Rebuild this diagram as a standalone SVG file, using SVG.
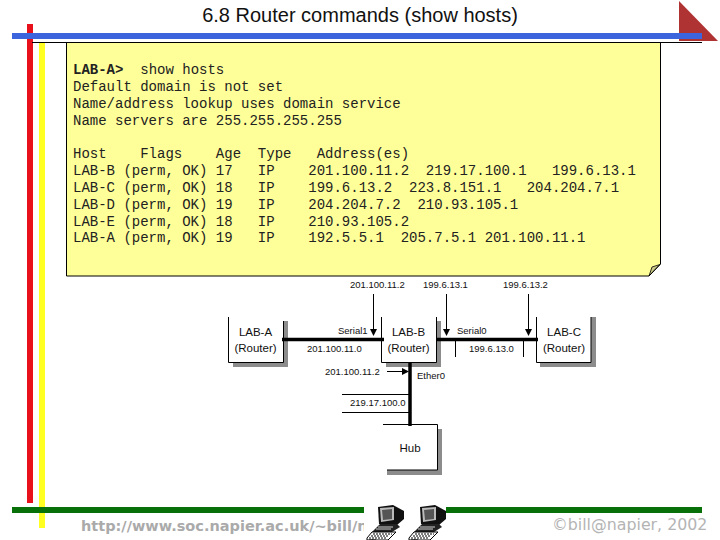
<svg xmlns="http://www.w3.org/2000/svg" width="720" height="540" viewBox="0 0 720 540">
<style>
.m{font:14px "Liberation Mono",monospace;fill:#222;white-space:pre}
.s{font:9.500px "Liberation Sans",Arial,sans-serif;fill:#111}
.n{font:11.500px "Liberation Sans",Arial,sans-serif;fill:#111;text-anchor:middle}
.e{fill:none;stroke:#000;stroke-width:1}
.t{fill:none;stroke:#000;stroke-width:3.500}
.sh{fill:#8c8c8c}
</style>
<defs>
<marker id="a" viewBox="0 0 7 7" refX="6" refY="3.500" markerWidth="7" markerHeight="7" markerUnits="userSpaceOnUse" orient="auto"><path d="M0 0L7 3.500L0 7Z" fill="#000"/></marker>
<clipPath id="c"><rect x="60" y="515" width="304" height="25"/></clipPath>
<g id="pc">
<path d="M12 2L27 0L38 6V14L31 20L13 19Z" fill="#111"/>
<path d="M14 3L28 2V15L15 17Z" fill="#bbb"/>
<path d="M16 5L26 4V14L17 15Z" fill="#555"/>
<path d="M14 19H31L34 22L26 27H6Z" fill="#222"/>
<path d="M12 22H27M10 24H25" stroke="#fff" stroke-width=".8"/>
<path d="M1 33L6 27H30L22 35H12L9 35V35H1Z" fill="#fff" stroke="#000" stroke-width="1"/>
<path d="M7 29H26M5 31H23M3 33H20" stroke="#000" stroke-width="1.200" stroke-dasharray="2 1"/>
<path d="M10 35L3 35M12 37L6 35M8 38H0" stroke="#000" stroke-width="1"/>
</g>
</defs>
<rect width="720" height="540" fill="#fff"/>
<text x="360" y="22" text-anchor="middle" style="font:20px 'Liberation Sans',Arial,sans-serif" fill="#111">6.8 Router commands (show hosts)</text>
<path id="corner" d="M679 1L718 41H679Z" fill="#b03333"/>
<rect x="27" y="24" width="6" height="479" fill="#e8101a"/>
<rect x="39" y="43" width="6" height="485" fill="#ffff22"/>
<g id="note">
<path d="M66.500 42.500H660.500V264L649 276H66.500Z" fill="#ffff99"/>
<path d="M660 264.500L649 276L652 267Z" fill="#cccc88" stroke="#000" stroke-width=".8"/>
<path d="M66.500 42.500V276H649L660.500 264V42.500" class="e"/>
<text class="m" x="73" y="74"><tspan font-weight="bold">LAB-A&gt;</tspan>  show hosts</text>
<text class="m" x="73" y="91">Default domain is not set</text>
<text class="m" x="73" y="108">Name/address lookup uses domain service</text>
<text class="m" x="73" y="125">Name servers are 255.255.255.255</text>
<text class="m" x="73" y="158">Host    Flags    Age  Type   Address(es)</text>
<text class="m" x="73" y="175">LAB-B (perm, OK) 17   IP    201.100.11.2  219.17.100.1   199.6.13.1</text>
<text class="m" x="73" y="192">LAB-C (perm, OK) 18   IP    199.6.13.2  223.8.151.1   204.204.7.1</text>
<text class="m" x="73" y="209">LAB-D (perm, OK) 19   IP    204.204.7.2  210.93.105.1</text>
<text class="m" x="73" y="226">LAB-E (perm, OK) 18   IP    210.93.105.2</text>
<text class="m" x="73" y="242">LAB-A (perm, OK) 19   IP    192.5.5.1  205.7.5.1 201.100.11.1</text>
</g>
<rect x="12" y="33" width="690" height="6" fill="#3c64dc"/>
<path d="M32 42.500H702" stroke="#000" stroke-width="1"/>
<rect x="12" y="507" width="352" height="6" fill="#087008"/>
<rect x="446" y="507" width="256" height="6" fill="#087008"/>
<g id="lab-a">
<path class="sh" d="M283 321H288V367H233V362H283Z"/>
<path class="e" d="M228.500 317V362.500H283.500V321"/>
<text class="n" x="255.500" y="336">LAB-A</text><text class="n" x="255.500" y="352">(Router)</text>
</g>
<g id="lab-b">
<path class="sh" d="M436 321H441V367H386V362H436Z"/>
<path class="e" d="M381.500 317V362.500H436.500V317"/>
<text class="n" x="408.500" y="336">LAB-B</text><text class="n" x="408.500" y="352">(Router)</text>
</g>
<g id="lab-c">
<path class="sh" d="M591 317H596V367H540V362H591Z"/>
<path class="e" d="M536.500 317V362.500H591V317"/>
<text class="n" x="564" y="336">LAB-C</text><text class="n" x="564" y="352">(Router)</text>
</g>
<g id="hub">
<path class="sh" d="M437 429H442V475H387V470H437Z"/>
<path class="e" d="M383 424.500H437.500V470H387"/>
<text class="n" x="410" y="452">Hub</text>
</g>
<g id="connectors">
<path class="t" d="M282 339.500H384"/>
<path class="t" d="M436 339.500H538"/>
<path class="t" d="M410 362V426"/>
<path class="e" d="M373.500 294V335" marker-end="url(#a)"/>
<path class="e" d="M446.500 294V335" marker-end="url(#a)"/>
<path class="e" d="M528.500 294V335" marker-end="url(#a)"/>
<path class="e" d="M387 371.500H408" marker-end="url(#a)"/>
<path class="e" d="M455.500 339V357M523.500 339V357"/>
<path class="e" d="M342 394.500H410M342 412.500H410"/>
</g>
<g id="labels">
<text class="s" x="350" y="288">201.100.11.2</text>
<text class="s" x="423" y="288">199.6.13.1</text>
<text class="s" x="503" y="288">199.6.13.2</text>
<text class="s" x="338" y="334">Serial1</text>
<text class="s" x="457" y="334">Serial0</text>
<text class="s" x="307" y="352">201.100.11.0</text>
<text class="s" x="469" y="352">199.6.13.0</text>
<text class="s" x="325" y="375">201.100.11.2</text>
<text class="s" x="417" y="379">Ether0</text>
<text class="s" x="350" y="406">219.17.100.0</text>
</g>
<text x="81" y="531" clip-path="url(#c)" style="font:bold 14.500px 'DejaVu Sans',sans-serif" fill="#aaa">http://www.soc.napier.ac.uk/~bill/n</text>
<text x="552" y="530" style="font:15.800px 'DejaVu Sans',sans-serif" fill="#b4b4b4">©bill@napier, 2002</text>
<g id="pc1"><use href="#pc" x="366" y="505"/></g>
<g id="pc2"><use href="#pc" x="408" y="505"/></g>
</svg>
